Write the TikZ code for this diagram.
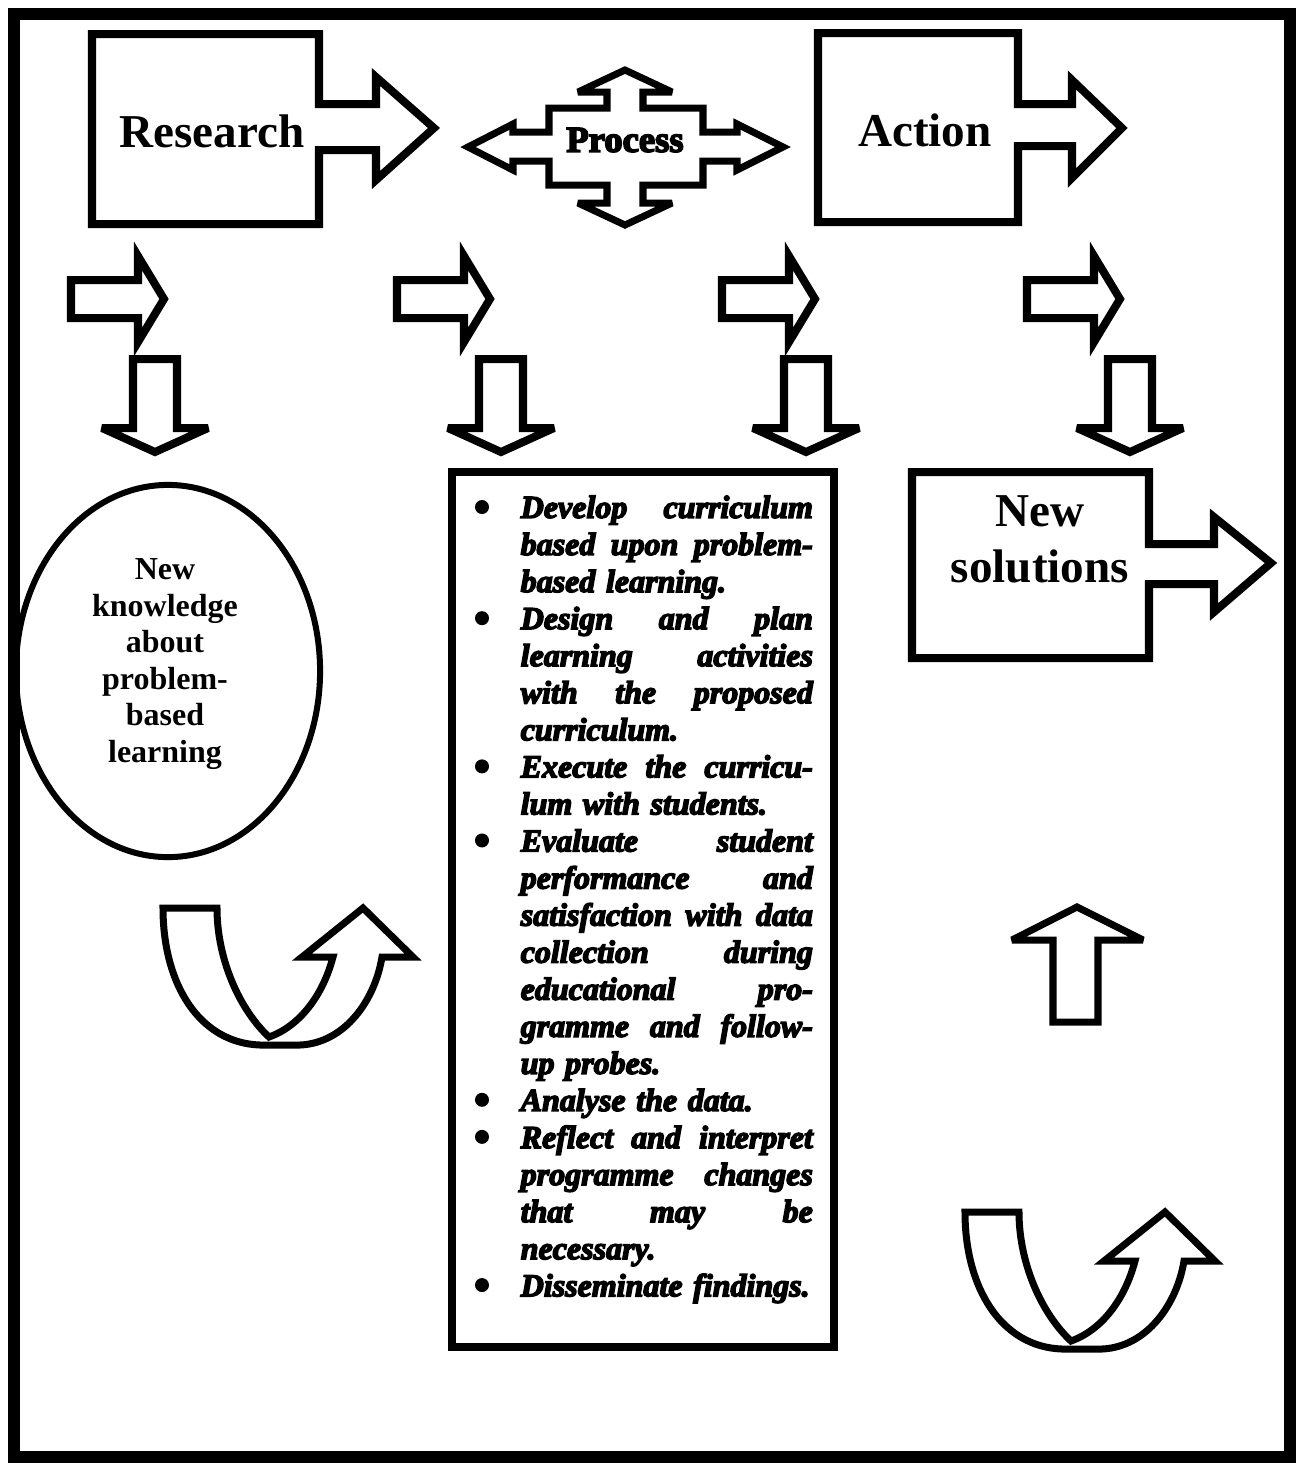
\documentclass[tikz,border=0pt]{standalone}
\usepackage{fontspec}
\setmainfont{Liberation Serif}
\newfontfamily\heavyfont[FakeBold=4.5]{Liberation Serif}
\usetikzlibrary{shapes.geometric}
\newlength\pxu
\setlength\pxu{0.28453pt}
% list line helpers: justified line and ragged line, both after the bullet indent
\newcommand\fullline[1]{\hbox to 292\pxu{\spaceskip=\fontdimen2\font plus 1fil\relax #1}}
\newcommand\indJ[1]{\hspace*{46\pxu}\fullline{#1}}
\newcommand\indR[1]{\hspace*{46\pxu}#1}
\begin{document}
\begin{tikzpicture}[x=0.01cm,y=-0.01cm,
  blockarrow/.style={draw=black, fill=white, line width=8\pxu, line join=miter, miter limit=4},
  thinblock/.style={blockarrow, line width=7\pxu},
  bigtext/.style={font=\fontsize{13.4pt}{15.9pt}\selectfont\bfseries, inner sep=0, align=center},
  ovaltext/.style={font=\fontsize{9.1pt}{10.4pt}\selectfont\bfseries, inner sep=0, align=center},
  steptext/.style={font=\heavyfont\bfseries\itshape\fontsize{9.1pt}{10.54pt}\selectfont, inner sep=0, align=left, text width=340\pxu},
  rightarrow/.pic={\draw[blockarrow] (0,-19) -- (67,-19) -- (67,-43) -- (93,0) -- (67,43) -- (67,19) -- (0,19) -- cycle;},
  downarrow/.pic={\draw[blockarrow] (-22,0) -- (22,0) -- (22,69) -- (53,69) -- (0,93) -- (-53,69) -- (-22,69) -- cycle;},
  uturn/.pic={\draw[thinblock] (0,0) .. controls (0,77) and (37,135) .. (97,137) -- (137,137)
      .. controls (182,135) and (212,92) .. (219,49) -- (250,49) -- (200,0) -- (139,49) -- (170,49)
      .. controls (160,87) and (137,118) .. (106,129)
      .. controls (77,102) and (54,52) .. (54,0) -- cycle;}
]
\useasboundingbox (0,0) rectangle (1302,1465);
\fill[white] (0,0) rectangle (1302,1465);

% outer frame
\draw[line width=12\pxu] (14,14) rectangle (1290,1457);

% top row: Research -> Process -> Action
\draw[blockarrow] (92,34) -- (319,34) -- (319,104) -- (376,104) -- (376,77) -- (434,128)
  -- (376,180) -- (376,150) -- (319,150) -- (319,224) -- (92,224) -- cycle;
\node[bigtext] (research) at (212,131) {Research};

\draw[thinblock] (549,108) -- (607,108) -- (607,92) -- (578,92) -- (625,70) -- (672,92) -- (643,92)
  -- (643,108) -- (703,108) -- (703,132) -- (737,132) -- (737,124) -- (783,147) -- (737,170)
  -- (737,161) -- (703,161) -- (703,185) -- (643,185) -- (643,203) -- (672,203) -- (625,225)
  -- (578,203) -- (607,203) -- (607,185) -- (549,185) -- (549,161) -- (513,161) -- (513,170)
  -- (468,147) -- (513,124) -- (513,132) -- (549,132) -- cycle;
\node[font=\heavyfont\bfseries\fontsize{10.4pt}{12pt}\selectfont, inner sep=0] (process) at (625,140) {Process};

\draw[blockarrow] (818,33) -- (1018,33) -- (1018,104) -- (1072,104) -- (1072,80) -- (1122,128)
  -- (1072,178) -- (1072,146) -- (1018,146) -- (1018,222) -- (818,222) -- cycle;
\node[bigtext] (action) at (925,130) {Action};

% second row of small arrows
\foreach \x in {71,397,722,1027} \pic at (\x,299) {rightarrow};
\foreach \x in {155,501,806,1130} \pic at (\x,359) {downarrow};

% left column
\node[ellipse, draw, line width=6\pxu, minimum width=304\pxu, minimum height=372\pxu, inner sep=0] (knowledge) at (168,671) {};
\node[ovaltext] (knowledgetext) at (165,664) {New\\knowledge\\about\\problem-\\based\\learning};
\pic at (163,908) {uturn};

% middle column: list of steps
\node[draw, line width=8\pxu, minimum width=382\pxu, minimum height=875\pxu, inner sep=0] (steps) at (643,909.5) {};
\node[steptext, anchor=north west] (steplist) at (474,495) {%
\indJ{Develop curriculum}\\
\indJ{based upon problem-}\\
\indR{based learning.}\\
\indJ{Design and plan}\\
\indJ{learning activities}\\
\indJ{with the proposed}\\
\indR{curriculum.}\\
\indJ{Execute the curricu-}\\
\indR{lum with students.}\\
\indJ{Evaluate student}\\
\indJ{performance and}\\
\indJ{satisfaction with data}\\
\indJ{collection during}\\
\indJ{educational pro-}\\
\indJ{gramme and follow-}\\
\indR{up probes.}\\
\indR{Analyse the data.}\\
\indJ{Reflect and interpret}\\
\indJ{programme changes}\\
\indJ{that may be}\\
\indR{necessary.}\\
\indR{Disseminate findings.}};
% list bullets, one per item, on the line pitch of the list
\foreach \k in {0,3,7,9,16,17,21} \fill (482,{507+37.05*\k}) circle (7);

% right column
\draw[blockarrow] (912,472) -- (1149,472) -- (1149,544) -- (1214,544) -- (1214,517) -- (1271,563)
  -- (1214,612) -- (1214,584) -- (1149,584) -- (1149,658) -- (912,658) -- cycle;
\node[bigtext] (solutions) at (1040,539) {New\\solutions};

\draw[thinblock] (1053,1022) -- (1053,940) -- (1012,940) -- (1077,907) -- (1143,940) -- (1098,940)
  -- (1098,1022) -- cycle;

\pic at (965,1212) {uturn};
\end{tikzpicture}
\end{document}
